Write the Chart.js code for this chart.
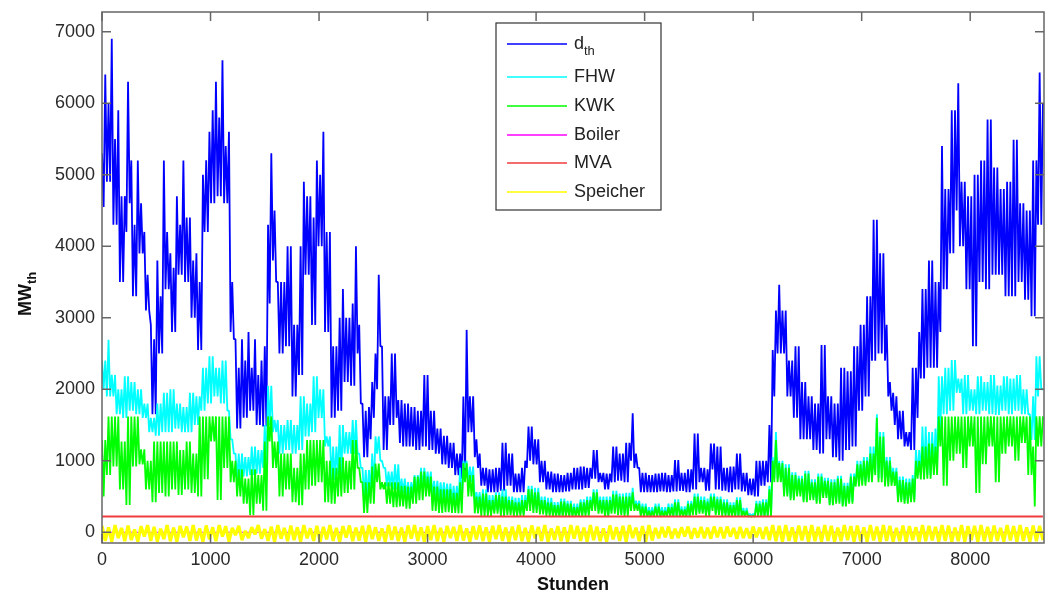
<!DOCTYPE html>
<html lang="de">
<head>
<meta charset="UTF-8">
<title>Wärmebedarf und Erzeugung</title>
<script src="https://cdn.jsdelivr.net/npm/chart.js@4"></script>
<style>
  html, body { margin: 0; padding: 0; background: #fff; }
  canvas { display: block; }
</style>
</head>
<body>
<canvas id="chart" width="1045" height="594"></canvas>
<script>
// in 30 h windows: upper value of the window,
// then the lower value half a window later
const STEP_HOURS = 30;

const dthHigh = [
  5300, 6400, 6000, 6900, 5500, 5900, 4700, 4700, 6300, 5200,
  4300, 5200, 4600, 4200, 3600, 2900, 2700, 3800, 3300, 5200,
  4200, 3900, 3700, 4700, 4300, 5200, 4400, 4400, 3800, 3900,
  3500, 5000, 5200, 5600, 5900, 6300, 5800, 6600, 5400, 5600,
  3500, 2700, 2300, 2700, 2400, 2800, 2300, 2700, 2200, 2400,
  2600, 4300, 5300, 4500, 3500, 3500, 3500, 4000, 4000, 2900,
  2900, 4000, 4900, 4700, 4700, 4400, 5200, 5000, 5600, 4200,
  4200, 2600, 2600, 3000, 3400, 3000, 3000, 3200, 4000, 2900,
  1800, 1700, 1750, 2100, 2500, 3600, 2600, 1900, 1900, 2500,
  2500, 1850, 1850, 1800, 1800, 1750, 1750, 1700, 1700, 2200,
  2200, 1700, 1700, 1450, 1450, 1350, 1350, 1250, 1250, 1100,
  1100, 1900, 2830, 1900, 1900, 1300, 1100, 900, 900, 880,
  880, 900, 900, 1250, 1250, 1100, 1100, 820, 820, 900,
  1000, 1480, 1480, 1300, 1300, 1000, 1000, 850, 850, 820,
  820, 800, 800, 830, 830, 900, 900, 920, 920, 900,
  900, 1150, 1150, 830, 830, 820, 820, 1200, 1200, 1100,
  1100, 1250, 1250, 1665, 1100, 900, 830, 830, 800, 800,
  820, 820, 830, 830, 800, 800, 1010, 1010, 830, 830,
  880, 880, 1380, 1380, 900, 900, 880, 1240, 1240, 1200,
  1200, 900, 900, 920, 920, 1100, 1100, 830, 830, 750,
  750, 1000, 1000, 1000, 1000, 1500, 2550, 3100, 3460, 3100,
  3100, 2400, 2400, 2600, 2600, 2100, 2100, 1900, 1900, 1800,
  1800, 2620, 2620, 1900, 1900, 1800, 1800, 2300, 2300, 2250,
  2250, 2600, 2600, 2900, 2900, 3300, 3300, 4370, 4370, 3900,
  3900, 2900, 2100, 1950, 1900, 1700, 1700, 1400, 1400, 2300,
  2300, 2800, 3400, 3400, 3800, 3800, 3500, 3500, 5400, 4800,
  4800, 5900, 5900, 6280, 4900, 4900, 4700, 4700, 5000, 5000,
  5200, 5200, 5770, 5770, 5100, 5100, 4800, 4800, 4900, 4900,
  5490, 5490, 4600, 4600, 4500, 4500, 5200, 5200, 6430, 6000
];
const dthLow = [
  4550, 4900, 4900, 4300, 4300, 3500, 3500, 4200, 4600, 3300,
  3300, 3900, 3900, 3100, 3100, 1650, 1650, 2500, 2500, 3400,
  3400, 2800, 2800, 3600, 3600, 3500, 3500, 3000, 3000, 2550,
  2550, 4200, 4200, 4600, 4600, 4700, 4700, 4600, 4600, 2800,
  2700, 1450, 1450, 1600, 1600, 1700, 1700, 1500, 1500, 1480,
  1480, 3200, 3800, 3500, 2500, 2500, 2600, 2600, 1900, 1900,
  2200, 2200, 3600, 3600, 2900, 2900, 4000, 4000, 2800, 2800,
  1600, 1600, 1700, 1700, 2100, 2100, 2050, 2050, 2500, 1800,
  1050, 1050, 1300, 1600, 2000, 2600, 1150, 1150, 1500, 1500,
  1600, 1250, 1200, 1200, 1200, 1200, 1150, 1150, 1200, 1200,
  1150, 1150, 1100, 1100, 950, 950, 900, 900, 800, 800,
  750, 750, 1400, 1400, 1050, 900, 650, 650, 560, 560,
  560, 560, 580, 580, 650, 650, 560, 560, 560, 560,
  900, 1000, 950, 950, 700, 700, 600, 600, 560, 560,
  560, 560, 570, 570, 600, 600, 600, 600, 620, 620,
  750, 750, 700, 700, 600, 600, 700, 700, 720, 720,
  700, 700, 1000, 900, 900, 560, 560, 560, 560, 560,
  560, 570, 570, 560, 560, 570, 570, 580, 580, 560,
  560, 600, 600, 700, 700, 580, 580, 880, 600, 600,
  580, 580, 560, 560, 600, 600, 570, 570, 520, 520,
  500, 500, 650, 650, 700, 700, 1900, 2500, 2500, 2500,
  1900, 1900, 1600, 1600, 1300, 1300, 1300, 1300, 1150, 1150,
  1100, 1100, 1300, 1300, 1050, 1050, 1000, 1000, 1150, 1150,
  1200, 1200, 1700, 1700, 1900, 1900, 2400, 2400, 2500, 2500,
  2400, 1900, 1700, 1500, 1300, 1300, 1200, 1200, 1150, 1150,
  1600, 2150, 2150, 2300, 2300, 2300, 2300, 2800, 3400, 3400,
  3900, 3900, 4500, 4000, 4000, 3400, 3400, 2600, 2600, 3500,
  3500, 3400, 3400, 3600, 3600, 3600, 3600, 3300, 3300, 3300,
  3300, 3500, 3500, 3250, 3250, 3020, 3020, 4300, 4300
];

const fhwHigh = [
  2400, 2400, 2690, 2200, 2200, 2000, 2000, 2180, 2180, 2100,
  2100, 2000, 2000, 1800, 1800, 1600, 1600, 1800, 1800, 1950,
  1950, 2000, 2000, 1800, 1800, 1750, 1750, 1950, 1950, 1900,
  1900, 2300, 2300, 2460, 2460, 2300, 2300, 2400, 2400, 1700,
  1300, 1100, 1100, 1100, 1050, 1050, 1200, 1200, 1150, 1150,
  1500, 2050, 2050, 1570, 1570, 1500, 1500, 1570, 1570, 1500,
  1500, 1900, 1900, 1800, 1800, 2180, 2180, 2000, 2000, 1340,
  1340, 1200, 1200, 1500, 1500, 1400, 1400, 1570, 1570, 1100,
  900, 870, 870, 1100, 1340, 1340, 1000, 900, 850, 850,
  950, 950, 750, 750, 700, 700, 800, 800, 900, 900,
  850, 850, 720, 720, 700, 700, 680, 680, 650, 650,
  900, 1000, 1000, 920, 920, 560, 560, 600, 600, 520,
  520, 560, 560, 600, 600, 500, 500, 480, 480, 520,
  520, 650, 650, 620, 620, 500, 500, 480, 480, 420,
  420, 470, 470, 440, 440, 400, 400, 460, 460, 500,
  500, 600, 600, 500, 500, 500, 500, 580, 580, 540,
  540, 550, 550, 620, 440, 440, 400, 400, 350, 350,
  400, 400, 350, 350, 400, 400, 460, 460, 360, 360,
  440, 440, 540, 540, 500, 500, 470, 540, 540, 500,
  500, 460, 460, 420, 420, 490, 490, 340, 340, 260,
  260, 440, 440, 460, 460, 650, 1050, 1400, 1000, 1000,
  950, 950, 840, 840, 790, 790, 860, 860, 740, 740,
  820, 820, 760, 760, 740, 740, 790, 790, 690, 690,
  820, 820, 1000, 1000, 1050, 1050, 1200, 1200, 1650, 1400,
  1400, 1050, 1050, 900, 900, 780, 780, 750, 750, 800,
  1150, 1150, 1480, 1480, 1400, 1400, 1450, 2180, 2180, 2300,
  2300, 2410, 2410, 2150, 2150, 2200, 2200, 2000, 2000, 2180,
  2180, 2100, 2100, 2200, 2200, 2050, 2050, 2180, 2180, 2150,
  2150, 2200, 2200, 2000, 2000, 1650, 1900, 2460, 2460, 2000
];
const fhwLow = [
  2000, 1900, 1900, 1900, 1650, 1650, 1600, 1600, 1700, 1700,
  1650, 1650, 1600, 1600, 1400, 1400, 1350, 1350, 1400, 1400,
  1400, 1400, 1450, 1450, 1400, 1400, 1400, 1400, 1500, 1500,
  1700, 1700, 1800, 1800, 1900, 1900, 1800, 1800, 1700, 1300,
  1100, 730, 730, 780, 780, 800, 800, 820, 820, 900,
  900, 1500, 1400, 1400, 1100, 1100, 1150, 1150, 1100, 1100,
  1150, 1150, 1340, 1340, 1400, 1400, 1600, 1600, 1200, 1200,
  733, 733, 800, 800, 1100, 1100, 1100, 1100, 1100, 900,
  500, 500, 600, 600, 1100, 1000, 900, 640, 640, 600,
  600, 550, 550, 500, 500, 550, 550, 600, 600, 650,
  650, 500, 500, 460, 460, 450, 450, 420, 420, 400,
  400, 900, 700, 700, 400, 400, 300, 300, 280, 280,
  300, 300, 280, 280, 300, 300, 260, 260, 260, 260,
  350, 350, 320, 320, 300, 300, 260, 260, 240, 240,
  240, 240, 240, 240, 240, 240, 240, 240, 260, 260,
  340, 340, 300, 300, 240, 240, 300, 300, 260, 260,
  260, 260, 350, 350, 350, 240, 240, 230, 230, 230,
  230, 230, 230, 230, 230, 230, 230, 230, 230, 230,
  230, 260, 260, 290, 290, 250, 250, 340, 260, 260,
  250, 250, 230, 230, 230, 230, 230, 230, 230, 230,
  230, 230, 230, 230, 230, 230, 750, 750, 750, 540,
  540, 480, 480, 540, 540, 450, 450, 480, 480, 430,
  430, 520, 520, 400, 400, 430, 430, 380, 380, 430,
  430, 680, 680, 700, 700, 750, 750, 850, 760, 760,
  700, 700, 700, 700, 460, 460, 440, 440, 460, 460,
  800, 800, 800, 800, 800, 900, 900, 1450, 1650, 1650,
  1700, 1700, 1950, 1950, 1650, 1650, 1700, 1700, 1650, 1650,
  1700, 1700, 1650, 1650, 1640, 1640, 1700, 1700, 1650, 1650,
  1700, 1700, 1650, 1650, 1650, 1290, 1290, 1900, 2000
];

const kwkHigh = [
  1290, 1290, 1620, 1620, 1620, 1620, 1270, 1270, 1620, 1620,
  1620, 1620, 1160, 1160, 1000, 1000, 1270, 1270, 1270, 1270,
  1270, 1270, 1270, 1270, 1150, 1150, 1270, 1270, 1100, 1100,
  1620, 1620, 1620, 1620, 1620, 1620, 1620, 1620, 1620, 1620,
  1000, 1000, 880, 880, 750, 750, 880, 880, 800, 800,
  1270, 1620, 1620, 1270, 1270, 1100, 1100, 1100, 1100, 900,
  900, 1100, 1100, 1290, 1290, 1290, 1290, 1290, 1290, 1000,
  1000, 900, 900, 1050, 1050, 1000, 1000, 1290, 1290, 900,
  700, 700, 700, 920, 960, 960, 700, 700, 700, 700,
  700, 700, 650, 650, 640, 640, 780, 780, 850, 850,
  780, 780, 640, 640, 600, 600, 600, 600, 550, 550,
  700, 966, 966, 800, 800, 500, 500, 540, 540, 450,
  450, 520, 520, 500, 500, 450, 450, 420, 420, 450,
  450, 600, 600, 560, 560, 450, 450, 420, 420, 380,
  380, 430, 430, 400, 400, 350, 350, 420, 420, 450,
  450, 560, 560, 450, 450, 450, 450, 530, 530, 500,
  500, 500, 500, 560, 400, 400, 360, 360, 300, 300,
  360, 360, 300, 300, 350, 350, 420, 420, 320, 320,
  400, 400, 500, 500, 450, 450, 430, 500, 500, 460,
  460, 420, 420, 380, 380, 450, 450, 300, 300, 230,
  230, 400, 400, 420, 420, 600, 1000, 1290, 966, 966,
  900, 900, 800, 800, 750, 750, 820, 820, 700, 700,
  780, 780, 720, 720, 700, 700, 750, 750, 650, 650,
  780, 780, 950, 950, 1000, 1000, 1100, 1100, 1600, 1340,
  1340, 1000, 1000, 850, 850, 730, 730, 700, 700, 750,
  1000, 1000, 1200, 1200, 1240, 1240, 1200, 1620, 1620, 1620,
  1620, 1620, 1620, 1620, 1620, 1620, 1620, 1620, 1620, 1620,
  1620, 1620, 1620, 1620, 1620, 1620, 1620, 1620, 1620, 1620,
  1620, 1620, 1620, 1620, 1620, 1620, 1200, 1620, 1620, 1620
];
const kwkLow = [
  500, 800, 800, 920, 920, 600, 600, 380, 380, 920,
  920, 950, 950, 600, 600, 420, 420, 550, 550, 500,
  500, 600, 600, 520, 520, 600, 600, 550, 550, 500,
  500, 740, 740, 1270, 1270, 450, 450, 900, 900, 700,
  700, 500, 500, 400, 400, 240, 240, 400, 400, 300,
  300, 1270, 900, 900, 500, 500, 600, 600, 420, 420,
  380, 380, 600, 600, 650, 650, 700, 700, 420, 420,
  400, 400, 500, 500, 550, 550, 600, 600, 900, 700,
  270, 270, 400, 400, 700, 600, 600, 400, 400, 350,
  350, 360, 360, 330, 330, 400, 400, 450, 450, 500,
  500, 300, 300, 270, 270, 280, 280, 270, 270, 265,
  265, 700, 500, 500, 265, 265, 230, 230, 230, 230,
  260, 260, 230, 230, 240, 240, 230, 230, 230, 230,
  300, 300, 270, 270, 250, 250, 230, 230, 220, 220,
  220, 220, 220, 220, 220, 220, 220, 220, 230, 230,
  300, 300, 260, 260, 220, 220, 260, 260, 240, 240,
  230, 230, 300, 300, 300, 220, 220, 218, 218, 218,
  218, 218, 218, 218, 218, 218, 218, 218, 218, 218,
  218, 240, 240, 260, 260, 230, 230, 300, 240, 240,
  230, 230, 218, 218, 218, 218, 218, 218, 218, 218,
  218, 218, 218, 218, 218, 218, 700, 700, 700, 500,
  500, 450, 450, 500, 500, 420, 420, 450, 450, 400,
  400, 480, 480, 380, 380, 400, 400, 360, 360, 400,
  400, 640, 640, 650, 650, 700, 700, 800, 700, 700,
  640, 640, 650, 650, 420, 420, 400, 400, 420, 420,
  750, 740, 740, 750, 750, 800, 800, 1200, 650, 650,
  1000, 1000, 1100, 1100, 900, 900, 1200, 1200, 550, 550,
  950, 950, 1200, 1200, 700, 700, 1100, 1100, 1200, 1200,
  1000, 1000, 1250, 1250, 800, 800, 360, 1200, 1200
];

// storage charge/discharge, one value every 30 h
const speicher = [
  90, -120, 70, -130, 100, -80, 60, -125, 95, -110,
  40, -130, 85, -60, 100, -120, 75, -130, 50, -95,
  100, -125, 65, -130, 90, -70, 80, -120, 100, -115,
  55, -130, 95, -100, 70, -125, 100, -60, 85, -130,
  60, -40, 90, -110, 20, -80, 70, -30, 100, -90,
  45, -120, 80, -130, 100, -90, 60, -125, 95, -110,
  70, -130, 100, -85, 55, -120, 90, -130, 75, -100,
  100, -120, 60, -130, 85, -75, 95, -125, 65, -115,
  90, -130, 100, -95, 70, -120, 55, -130, 100, -105,
  80, -125, 65, -130, 95, -90, 100, -120, 70, -130,
  85, -110, 100, -125, 60, -130, 90, -80, 75, -120,
  100, -115, 55, -130, 85, -100, 95, -125, 70, -130,
  90, -95, 100, -120, 65, -130, 80, -110, 100, -125,
  60, -130, 95, -85, 75, -120, 100, -130, 55, -105,
  85, -125, 70, -130, 100, -90, 90, -120, 65, -130,
  100, -110, 80, -125, 55, -130, 95, -100, 70, -120,
  90, -130, 100, -80, 65, -125, 85, -130, 100, -115,
  60, -85, 75, -70, 80, -90, 50, -80, 70, -60,
  80, -90, 55, -75, 75, -85, 65, -90, 80, -70,
  70, -85, 80, -60, 60, -90, 75, -80, 55, -85,
  80, -70, 65, -90, 75, -110, 100, -125, 90, -130,
  100, -120, 70, -130, 95, -115, 85, -130, 100, -125,
  75, -130, 100, -120, 90, -130, 65, -125, 100, -110,
  85, -130, 95, -125, 70, -130, 100, -115, 80, -130,
  100, -120, 90, -130, 60, -125, 95, -130, 85, -110,
  70, -130, 100, -125, 90, -115, 75, -130, 100, -120,
  95, -130, 65, -125, 100, -130, 85, -110, 90, -130,
  100, -125, 75, -130, 95, -120, 60, -130, 100, -115,
  85, -130, 100, -120, 70, -130, 95, -125, 90, -110
];

// constant series, given at start and end of the year
const flatHours = [0, 8670];
const boiler = [0, 0];
const mva = [220, 220];

const xTicks = [0, 1000, 2000, 3000, 4000, 5000, 6000, 7000, 8000];
const yTicks = [0, 1000, 2000, 3000, 4000, 5000, 6000, 7000];

const windowPoints = (high, low) => {
    const pts = [];
    high.forEach((v, i) => {
        pts.push({ x: i * STEP_HOURS, y: v });
        if (i < low.length) pts.push({ x: i * STEP_HOURS + STEP_HOURS / 2, y: low[i] });
    });
    return pts;
};
const stepPoints = ys => ys.map((y, i) => ({ x: i * STEP_HOURS, y: y }));
const flatPoints = ys => ys.map((y, i) => ({ x: flatHours[i], y: y }));

const FONT = '"Liberation Sans", Arial, sans-serif';
const TICK = 9;

// MATLAB-like box, inward ticks, labels and legend
const matlabAxes = {
    id: 'matlabAxes',
    afterDraw(chart) {
        const ctx = chart.ctx;
        const a = chart.chartArea;
        const xs = chart.scales.x;
        const ys = chart.scales.y;
        ctx.save();

        ctx.strokeStyle = '#666';
        ctx.lineWidth = 1.5;
        ctx.strokeRect(a.left, a.top, a.right - a.left, a.bottom - a.top);

        ctx.beginPath();
        xTicks.forEach(v => {
            const px = xs.getPixelForValue(v);
            ctx.moveTo(px, a.bottom); ctx.lineTo(px, a.bottom - TICK);
            ctx.moveTo(px, a.top); ctx.lineTo(px, a.top + TICK);
        });
        yTicks.forEach(v => {
            const py = ys.getPixelForValue(v);
            ctx.moveTo(a.left, py); ctx.lineTo(a.left + TICK, py);
            ctx.moveTo(a.right, py); ctx.lineTo(a.right - TICK, py);
        });
        ctx.stroke();

        ctx.fillStyle = '#2a2a2a';
        ctx.font = '18px ' + FONT;
        ctx.textBaseline = 'middle';
        ctx.textAlign = 'center';
        xTicks.forEach(v => ctx.fillText(String(v), xs.getPixelForValue(v), a.bottom + 17));
        ctx.textAlign = 'right';
        yTicks.forEach(v => ctx.fillText(String(v), a.left - 7, ys.getPixelForValue(v)));

        // axis titles
        ctx.fillStyle = '#111';
        ctx.font = 'bold 18px ' + FONT;
        ctx.textAlign = 'center';
        ctx.fillText('Stunden', (a.left + a.right) / 2, a.bottom + 42);

        ctx.save();
        ctx.translate(31, 316);
        ctx.rotate(-Math.PI / 2);
        ctx.textAlign = 'left';
        ctx.textBaseline = 'alphabetic';
        ctx.fillText('MW', 0, 0);
        const w = ctx.measureText('MW').width;
        ctx.font = 'bold 13px ' + FONT;
        ctx.fillText('th', w, 5);
        ctx.restore();

        // legend
        const box = { x: 496, y: 23, w: 165, h: 187 };
        const rows = [21, 54, 83, 112, 140, 169];
        ctx.fillStyle = '#fff';
        ctx.fillRect(box.x, box.y, box.w, box.h);
        ctx.strokeStyle = '#333';
        ctx.lineWidth = 1.2;
        ctx.strokeRect(box.x, box.y, box.w, box.h);
        chart.data.datasets.forEach((ds, i) => {
            const y = box.y + rows[i];
            ctx.strokeStyle = ds.borderColor;
            ctx.lineWidth = 1.5;
            ctx.beginPath();
            ctx.moveTo(box.x + 11, y);
            ctx.lineTo(box.x + 71, y);
            ctx.stroke();
            ctx.fillStyle = '#222';
            ctx.textAlign = 'left';
            ctx.textBaseline = 'middle';
            const parts = ds.label.split('_');
            ctx.font = '18px ' + FONT;
            ctx.fillText(parts[0], box.x + 78, y);
            if (parts[1]) {
                const tw = ctx.measureText(parts[0]).width;
                ctx.font = '13px ' + FONT;
                ctx.fillText(parts[1], box.x + 78 + tw, y + 7);
            }
        });
        ctx.restore();
    }
};

const line = (label, data, color, width, order) => ({
    label: label,
    data: data,
    borderColor: color,
    borderWidth: width,
    borderJoinStyle: 'bevel',
    pointRadius: 0,
    tension: 0,
    fill: false,
    order: order
});

new Chart(document.getElementById('chart'), {
    type: 'line',
    data: {
        datasets: [
            line('d_th', windowPoints(dthHigh, dthLow), '#0000ff', 1.8, 6),
            line('FHW', windowPoints(fhwHigh, fhwLow), '#00ffff', 1.8, 5),
            line('KWK', windowPoints(kwkHigh, kwkLow), '#00ff00', 1.8, 4),
            line('Boiler', flatPoints(boiler), '#ff00ff', 1, 3),
            line('MVA', flatPoints(mva), '#f03c3c', 2, 2),
            line('Speicher', stepPoints(speicher), '#ffff00', 3.2, 1)
        ]
    },
    options: {
        responsive: false,
        animation: false,
        devicePixelRatio: 1,
        layout: { padding: { left: 102, right: 1, top: 12, bottom: 51 } },
        plugins: {
            legend: { display: false },
            tooltip: { enabled: false }
        },
        scales: {
            x: { type: 'linear', min: 0, max: 8680, display: false },
            y: { type: 'linear', min: -150, max: 7275, display: false }
        }
    },
    plugins: [matlabAxes]
});
</script>
</body>
</html>
